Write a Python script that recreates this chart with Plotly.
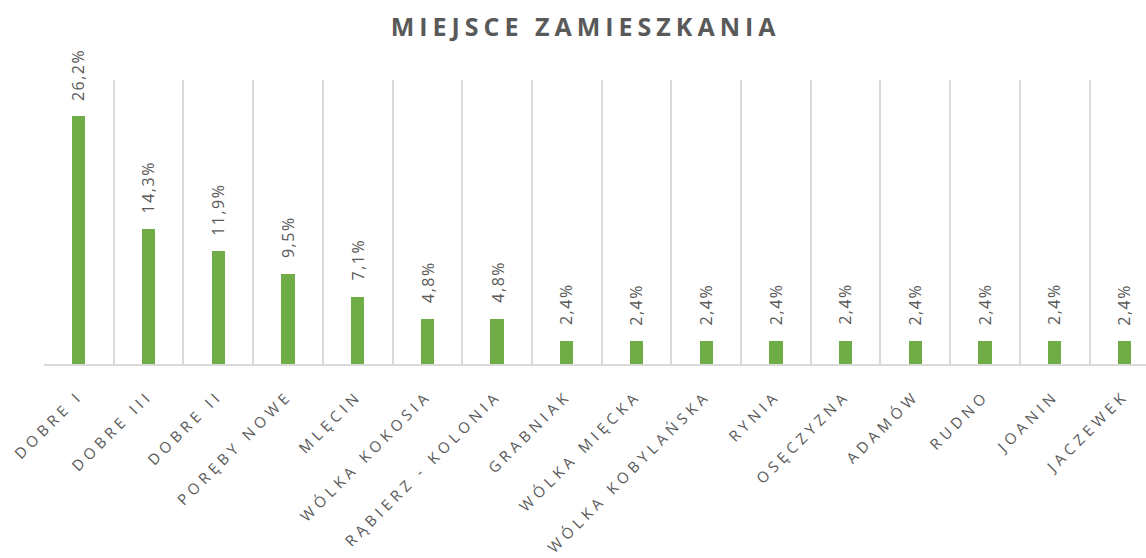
import plotly.graph_objects as go

# data
places = ["DOBRE I", "DOBRE III", "DOBRE II", "PORĘBY NOWE", "MLĘCIN", "WÓLKA KOKOSIA",
          "RĄBIERZ - KOLONIA", "GRABNIAK", "WÓLKA MIĘCKA", "WÓLKA KOBYLAŃSKA", "RYNIA",
          "OSĘCZYZNA", "ADAMÓW", "RUDNO", "JOANIN", "JACZEWEK"]
shares = [26.2, 14.3, 11.9, 9.5, 7.1, 4.8, 4.8, 2.4, 2.4, 2.4, 2.4, 2.4, 2.4, 2.4, 2.4, 2.4]
labels = [f"{v:.1f}%".replace(".", ",") for v in shares]

grey = "#595959"
font = "Open Sans"

fig = go.Figure(go.Bar(
    x=places,
    y=shares,
    width=0.19,
    marker=dict(color="#70AD47", line=dict(width=0)),
    hoverinfo="skip",
))

# value labels above bars, rotated
for p, v, t in zip(places, shares, labels):
    fig.add_annotation(x=p, y=v, text=t, textangle=-90, showarrow=False,
                       yanchor="bottom", yshift=17,
                       font=dict(family=font, size=16, color=grey))

fig.update_layout(
    width=1146, height=558,
    paper_bgcolor="white", plot_bgcolor="white",
    margin=dict(l=44, r=0, t=80, b=194),
    title=dict(text="<b>MIEJSCE ZAMIESZKANIA</b>", x=0.511, xanchor="center",
               y=0.952, yanchor="middle",
               font=dict(family=font, size=25, color=grey)),
    showlegend=False,
    bargap=0,
)
fig.update_xaxes(
    type="category", range=[-0.5, 15.31], tickson="boundaries",
    showgrid=True, gridcolor="#d9d9d9", gridwidth=1.5,
    showline=True, linecolor="#d9d9d9", linewidth=2,
    ticks="", tickangle=-45, ticklabelstandoff=15,
    tickfont=dict(family=font, size=15, color=grey),
)
fig.update_yaxes(range=[0, 30], showgrid=False, zeroline=False,
                 showticklabels=False, ticks="", showline=False)

# letter spacing like the original (CSS, text kept as text); no page margin
post = """
document.body.style.margin = '0';
var gd = document.getElementById('{plot_id}');
function spacing(){
  gd.querySelectorAll('.xtick text').forEach(function(t){t.style.letterSpacing='4.5px';});
  gd.querySelectorAll('.gtitle').forEach(function(t){t.style.letterSpacing='5px';});
  gd.querySelectorAll('.annotation-text').forEach(function(t){t.style.letterSpacing='1.5px';});
}
spacing();
gd.on('plotly_afterplot', spacing);
"""

fig.write_html("out.html", post_script=post, config={"displayModeBar": False})
